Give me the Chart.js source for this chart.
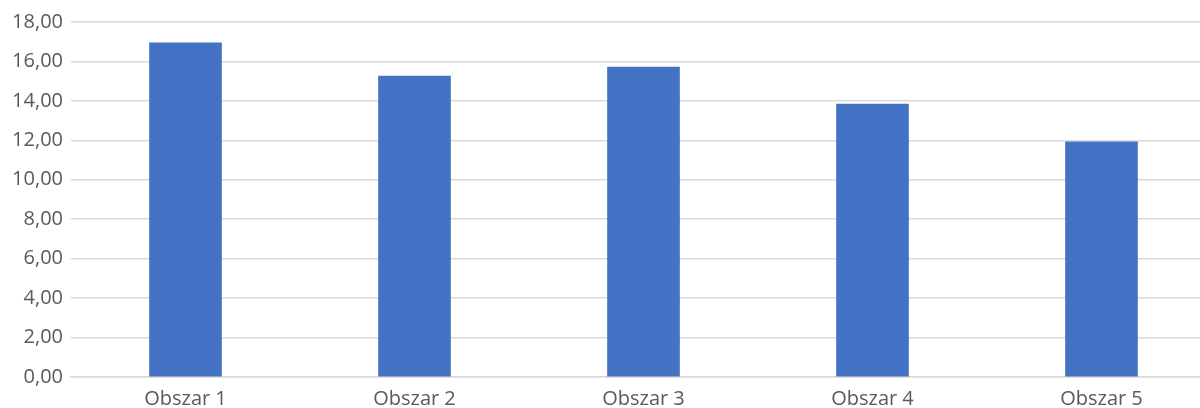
<!DOCTYPE html>
<html>
<head>
<meta charset="utf-8">
<script src="https://cdn.jsdelivr.net/npm/chart.js@4/dist/chart.umd.min.js"></script>
<style>
    html, body { margin: 0; padding: 0; background: #ffffff; overflow: hidden; }
    #wrap { position: absolute; left: 0; top: 0; width: 1216px; height: 408px; }
</style>
</head>
<body>
<div id="wrap"><canvas id="barChart"></canvas></div>
<script>
const categories = ['Obszar 1', 'Obszar 2', 'Obszar 3', 'Obszar 4', 'Obszar 5'];
const values = [16.94, 15.26, 15.72, 13.84, 11.92];
const yTicks = [0, 2, 4, 6, 8, 10, 12, 14, 16, 18];

const textColor = '#595959';
const gridColor = '#d9d9d9';
const fontFamily = 'Open Sans, sans-serif';

const formatTick = (value) => Number(value).toFixed(2).replace('.', ',');

new Chart(document.getElementById('barChart'), {
    type: 'bar',
    data: {
        labels: categories,
        datasets: [
            {
                data: values,
                backgroundColor: '#4472c4',
                barThickness: 72,
            },
        ],
    },
    options: {
        responsive: true,
        maintainAspectRatio: false,
        animation: false,
        layout: {
            padding: { top: 22, right: 0, bottom: 0, left: 0 },
        },
        plugins: {
            legend: { display: false },
            tooltip: { enabled: false },
        },
        scales: {
            x: {
                grid: { display: false, drawTicks: false },
                border: { color: gridColor, width: 1.5 },
                ticks: {
                    color: textColor,
                    padding: 10,
                    maxRotation: 0,
                    font: { family: fontFamily, size: 20 },
                },
                afterFit: (scale) => {
                    scale.height = 31;
                },
            },
            y: {
                min: 0,
                max: 18,
                afterBuildTicks: (scale) => {
                    scale.ticks = yTicks.map((v) => ({ value: v }));
                },
                grid: { color: gridColor, lineWidth: 1.5, drawTicks: false },
                border: { display: false },
                ticks: {
                    color: textColor,
                    padding: 8,
                    font: { family: fontFamily, size: 20 },
                    callback: (value) => formatTick(value),
                },
                afterFit: (scale) => {
                    scale.width = 71;
                },
            },
        },
    },
});
</script>
</body>
</html>
